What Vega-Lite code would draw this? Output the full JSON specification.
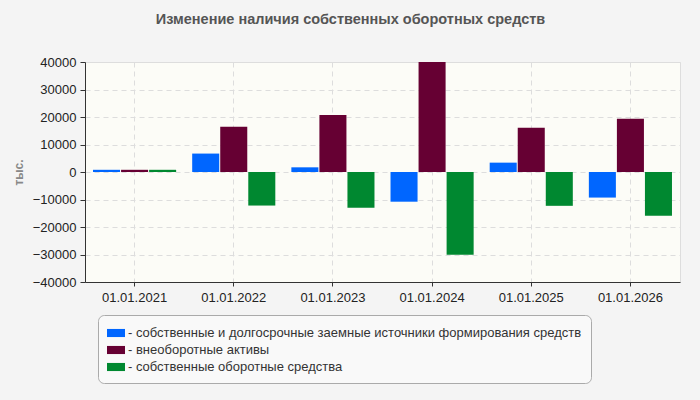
{
  "$schema": "https://vega.github.io/schema/vega-lite/v6.json",
  "autosize": {"type": "none"},
  "padding": {"left": 85, "top": 62, "right": 20, "bottom": 118},
  "width": 595,
  "height": 220,
  "background": "#f4f4f4",
  "title": {
    "text": "Изменение наличия собственных оборотных средств",
    "font": "Liberation Sans",
    "fontSize": 14.5,
    "fontWeight": "bold",
    "color": "#555555",
    "anchor": "middle",
    "dx": -32,
    "offset": 29
  },
  "data": {
    "values": [
      {"date": "01.01.2021", "series": "собственные и долгосрочные заемные источники формирования средств", "value": 800},
      {"date": "01.01.2021", "series": "внеоборотные активы", "value": 800},
      {"date": "01.01.2021", "series": "собственные оборотные средства", "value": 800},
      {"date": "01.01.2022", "series": "собственные и долгосрочные заемные источники формирования средств", "value": 6700},
      {"date": "01.01.2022", "series": "внеоборотные активы", "value": 16500},
      {"date": "01.01.2022", "series": "собственные оборотные средства", "value": -12200},
      {"date": "01.01.2023", "series": "собственные и долгосрочные заемные источники формирования средств", "value": 1700},
      {"date": "01.01.2023", "series": "внеоборотные активы", "value": 20700},
      {"date": "01.01.2023", "series": "собственные оборотные средства", "value": -13000},
      {"date": "01.01.2024", "series": "собственные и долгосрочные заемные источники формирования средств", "value": -10800},
      {"date": "01.01.2024", "series": "внеоборотные активы", "value": 40000},
      {"date": "01.01.2024", "series": "собственные оборотные средства", "value": -30100},
      {"date": "01.01.2025", "series": "собственные и долгосрочные заемные источники формирования средств", "value": 3400},
      {"date": "01.01.2025", "series": "внеоборотные активы", "value": 16100},
      {"date": "01.01.2025", "series": "собственные оборотные средства", "value": -12300},
      {"date": "01.01.2026", "series": "собственные и долгосрочные заемные источники формирования средств", "value": -9300},
      {"date": "01.01.2026", "series": "внеоборотные активы", "value": 19400},
      {"date": "01.01.2026", "series": "собственные оборотные средства", "value": -15900}
    ]
  },
  "mark": {"type": "bar", "clip": true},
  "encoding": {
    "x": {
      "field": "date",
      "type": "nominal",
      "sort": null,
      "scale": {"paddingInner": 0, "paddingOuter": 0},
      "axis": {
        "title": null,
        "labelAngle": 0,
        "labelFont": "Liberation Sans",
        "labelFontSize": 13,
        "labelColor": "#222222",
        "labelPadding": 5,
        "tickSize": 4,
        "tickColor": "#333333",
        "domainColor": "#333333",
        "grid": true,
        "gridColor": "#dddddd",
        "gridDash": [5, 4]
      }
    },
    "xOffset": {
      "field": "series",
      "type": "nominal",
      "sort": ["собственные и долгосрочные заемные источники формирования средств", "внеоборотные активы", "собственные оборотные средства"],
      "scale": {"paddingInner": 0.036, "paddingOuter": 0.286}
    },
    "y": {
      "field": "value",
      "type": "quantitative",
      "scale": {"domain": [-40000, 40000], "nice": false},
      "axis": {
        "title": "тыс.",
        "titleFont": "Liberation Sans",
        "titleFontSize": 12,
        "titleFontWeight": "bold",
        "titleColor": "#888888",
        "titleAngle": -90,
        "titleX": -67,
        "titleY": 110,
        "titleAlign": "center",
        "titleBaseline": "middle",
        "values": [-40000, -30000, -20000, -10000, 0, 10000, 20000, 30000, 40000],
        "format": "d",
        "labelFont": "Liberation Sans",
        "labelFontSize": 13,
        "labelColor": "#222222",
        "labelPadding": 4,
        "tickSize": 5,
        "tickColor": "#333333",
        "domainColor": "#333333",
        "grid": true,
        "gridColor": "#dddddd",
        "gridDash": [5, 4]
      }
    },
    "color": {
      "field": "series",
      "type": "nominal",
      "sort": ["собственные и долгосрочные заемные источники формирования средств", "внеоборотные активы", "собственные оборотные средства"],
      "scale": {
        "domain": ["собственные и долгосрочные заемные источники формирования средств", "внеоборотные активы", "собственные оборотные средства"],
        "range": ["#0066FF", "#660033", "#008830"]
      },
      "legend": {
        "title": null,
        "orient": "none",
        "legendX": 13,
        "legendY": 253,
        "direction": "vertical",
        "fillColor": "#f9f9f9",
        "strokeColor": "#aaaaaa",
        "cornerRadius": 6,
        "padding": 9,
        "rowPadding": 1,
        "labelFont": "Liberation Sans",
        "labelFontSize": 13,
        "labelColor": "#333333",
        "labelLimit": 600,
        "labelOffset": 3,
        "labelExpr": "'- ' + datum.label",
        "symbolType": "M-1,-0.45H1V0.45H-1Z",
        "symbolSize": 324,
        "symbolStrokeWidth": 0
      }
    }
  },
  "config": {
    "view": {"stroke": "#dddddd", "fill": "#fcfcf7"}
  }
}
